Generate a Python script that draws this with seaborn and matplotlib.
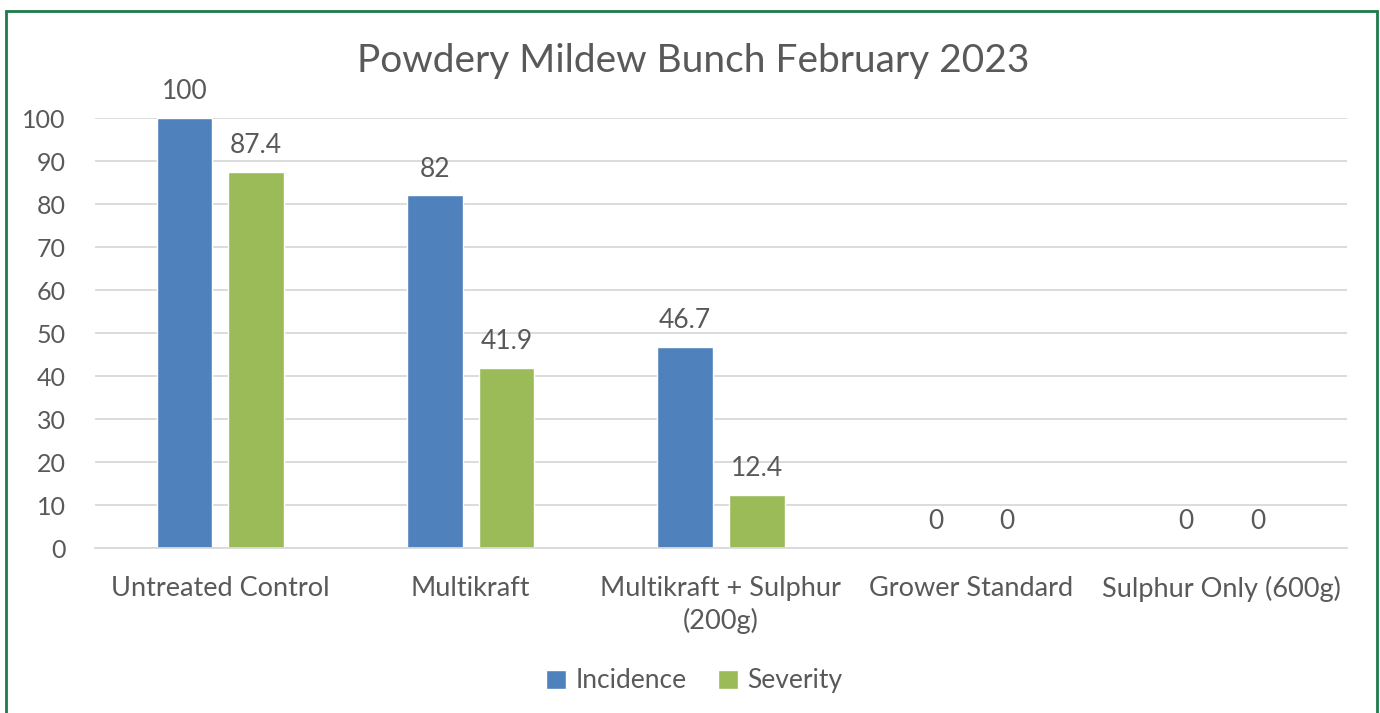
import matplotlib
matplotlib.use("Agg")
import matplotlib.pyplot as plt
from matplotlib.patches import Rectangle
import seaborn as sns
import pandas as pd

# Datos
categorias = ["Untreated Control", "Multikraft", "Multikraft + Sulphur\n(200g)",
              "Grower Standard", "Sulphur Only (600g)"]
incidencia = [100, 82, 46.7, 0, 0]
severidad = [87.4, 41.9, 12.4, 0, 0]
series = ["Incidence", "Severity"]
colores = ["#4f81bd", "#9bbb59"]

df = pd.DataFrame({
    "cat": categorias * 2,
    "valor": incidencia + severidad,
    "serie": [series[0]] * len(categorias) + [series[1]] * len(categorias),
})

sns.set_style("white")
plt.rcParams["font.family"] = ["Lato", "DejaVu Sans"]
gris = "#595959"

fig = plt.figure(figsize=(13.8, 7.13), dpi=100)
ax = fig.add_axes([0.0688, 0.2314, 0.9072, 0.6031])

sns.barplot(data=df, x="cat", y="valor", hue="serie", palette=colores,
            width=0.572, gap=0.224, ax=ax, saturation=1)

for cont in ax.containers:
    ax.bar_label(cont, fmt="%g", padding=10, fontsize=19, color=gris)

ax.set_ylim(0, 100)
ax.set_yticks(range(0, 101, 10))
ax.set_xlim(-0.5, len(categorias) - 0.5)
ax.set_xlabel("")
ax.set_ylabel("")
ax.grid(axis="y", color="#d9d9d9", linewidth=1.3)
ax.set_axisbelow(True)
for s in ["top", "right", "left"]:
    ax.spines[s].set_visible(False)
ax.spines["bottom"].set_color("#d9d9d9")
ax.spines["bottom"].set_linewidth(1.3)
ax.tick_params(axis="both", length=0, labelcolor=gris)
ax.tick_params(axis="y", pad=21, labelsize=18)
ax.tick_params(axis="x", pad=20, labelsize=19.5)
for t in ax.get_xticklabels():
    t.set_linespacing(1.35)

# Título centrado en la figura
fig.text(0.502, 0.915, "Powdery Mildew Bunch February 2023", fontsize=28,
         color=gris, ha="center", va="center")

ax.get_legend().remove()
fig.legend(*ax.get_legend_handles_labels(), loc="center", bbox_to_anchor=(0.503, 0.045),
           ncol=2, frameon=False, fontsize=19, labelcolor=gris, handlelength=0.75,
           handleheight=0.75, handletextpad=0.35, columnspacing=1.2)

# Marco verde
fig.patches.append(Rectangle((0.0043, -0.02), 0.9935, 1.005, transform=fig.transFigure,
                             fill=False, edgecolor="#1e7b4a", linewidth=2))

fig.savefig("out.png", dpi=100)
